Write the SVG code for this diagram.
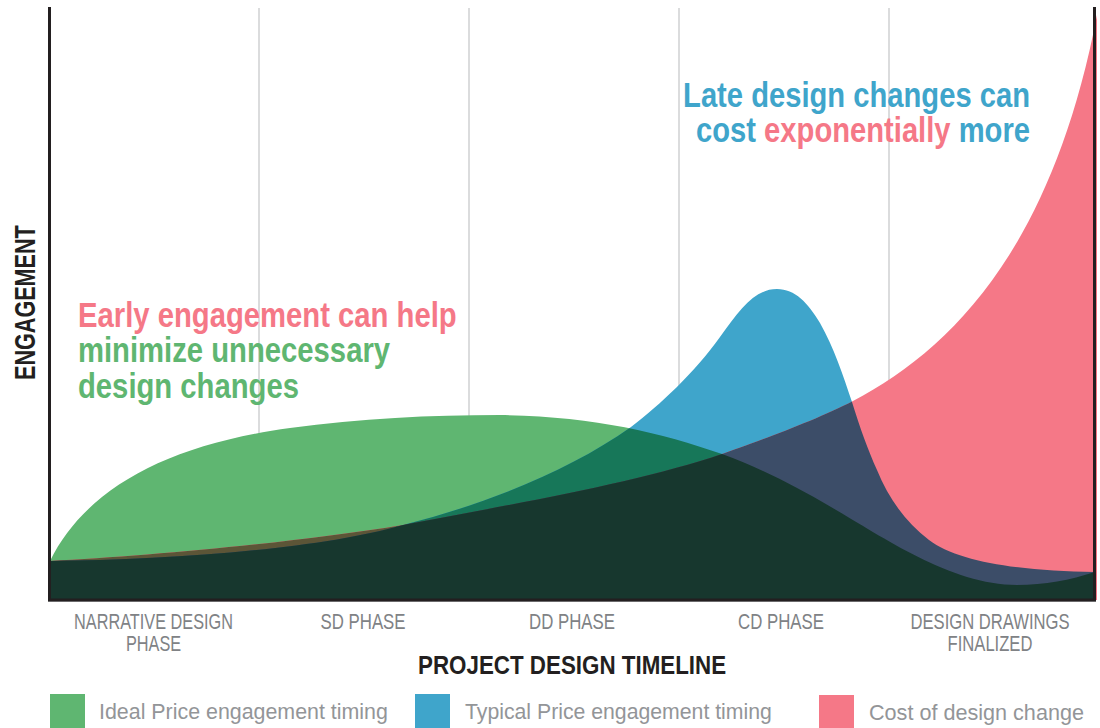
<svg xmlns="http://www.w3.org/2000/svg" xmlns:xlink="http://www.w3.org/1999/xlink" width="1100" height="728" viewBox="0 0 1100 728">
<style>
text{font-family:"Liberation Sans",Arial,sans-serif}
.grid{stroke:#cfd0d2;stroke-width:1.5;fill:none}
.h{font-weight:bold;font-size:34.5px}
.ax{font-weight:bold;fill:#231f20}
.ph{font-size:22px;fill:#808285;text-anchor:middle}
.lg{font-size:22px;fill:#939598}
.gc{fill:#5fb671}.bc{fill:#3fa5cb}.pc{fill:#f57887}
</style>
<defs>
<path id="pg" d="M50,561C85,490 165,445 290,428C360,418.500 430,415 500,415C590,416 660,432 722,454C760,468 795,486 831,507C880,535 950,585 1017,585C1045,585 1070,580 1095,572L1095,600L50,600Z"/>
<path id="pb" d="M50,561C170,560 320,549 403,525C490,503 570,470 631,427C660,405 695,372 720,337C740,309 755,289 777,289C795,289 808,303 820,323C834,348 843,375 852,402C860,428 868,450 877,470C888,497 905,522 929,540C958,562 1020,571 1095,572L1095,600L50,600Z"/>
<path id="pp" d="M50,561C150,556 300,542 403,525C520,503 640,482 722,454C745,446 815,421 853,401C950,350 1052,250 1097,15L1097,600L50,600Z"/>
<clipPath id="cg"><use xlink:href="#pg"/></clipPath>
<clipPath id="cb"><use xlink:href="#pb"/></clipPath>
<clipPath id="cp"><use xlink:href="#pp"/></clipPath>
</defs>
<g id="grid">
<line class="grid" x1="259" y1="8" x2="259" y2="445"/>
<line class="grid" x1="469" y1="8" x2="469" y2="425"/>
<line class="grid" x1="679" y1="8" x2="679" y2="400"/>
<line class="grid" x1="889" y1="8" x2="889" y2="400"/>
</g>
<g id="areas">
<use id="area-green" xlink:href="#pg" class="gc"/>
<use id="area-blue" xlink:href="#pb" class="bc"/>
<use id="area-pink" xlink:href="#pp" class="pc"/>
<use xlink:href="#pg" fill="#177759" clip-path="url(#cb)"/>
<use xlink:href="#pg" fill="#5c5537" clip-path="url(#cp)"/>
<use xlink:href="#pb" fill="#3c4d68" clip-path="url(#cp)"/>
<g clip-path="url(#cg)"><use xlink:href="#pb" fill="#17372e" clip-path="url(#cp)"/></g>
</g>
<g id="axes">
<path d="M48,601.500H1096" fill="none" stroke="#b5b6b8" stroke-width="1"/>
<path d="M49.500,7V600H1094.500V7" fill="none" stroke="#231f20" stroke-width="3"/>
</g>
<g id="headlines">
<text class="h" fill="#3fa5cb" text-anchor="end" transform="translate(1030,107) scale(.846,1)"><tspan x="0">Late design changes can</tspan><tspan x="0" dy="35">cost <tspan fill="#f57887">exponentially</tspan> more</tspan></text>
<text class="h" fill="#5fb671" transform="translate(78,327) scale(.848,1)"><tspan x="0" fill="#f57887">Early engagement can help</tspan><tspan x="0" dy="35">minimize unnecessary</tspan><tspan x="0" dy="36">design changes</tspan></text>
</g>
<g id="axis-labels">
<text class="ax" font-size="29" transform="translate(35,380) rotate(-90) scale(.745,1)">ENGAGEMENT</text>
<text class="ax" font-size="26.500" transform="translate(418,674) scale(.844,1)">PROJECT DESIGN TIMELINE</text>
</g>
<g id="phases">
<text class="ph" transform="translate(153.500,629) scale(.74,1)"><tspan x="0">NARRATIVE DESIGN</tspan><tspan x="0" dy="22">PHASE</tspan></text>
<text class="ph" transform="translate(363,629) scale(.765,1)">SD PHASE</text>
<text class="ph" transform="translate(572,629) scale(.765,1)">DD PHASE</text>
<text class="ph" transform="translate(781,629) scale(.765,1)">CD PHASE</text>
<text class="ph" transform="translate(990,629) scale(.755,1)"><tspan x="0">DESIGN DRAWINGS</tspan><tspan x="0" dy="22">FINALIZED</tspan></text>
</g>
<g id="legend-ideal"><rect class="gc" x="50" y="694" width="35" height="34"/><text class="lg" transform="translate(99,719) scale(.973,1)">Ideal Price engagement timing</text></g>
<g id="legend-typical"><rect class="bc" x="415" y="694" width="35" height="34"/><text class="lg" transform="translate(465,719) scale(.966,1)">Typical Price engagement timing</text></g>
<g id="legend-cost"><rect class="pc" x="819" y="695" width="35" height="33"/><text class="lg" transform="translate(869,720) scale(.982,1)">Cost of design change</text></g>
</svg>
